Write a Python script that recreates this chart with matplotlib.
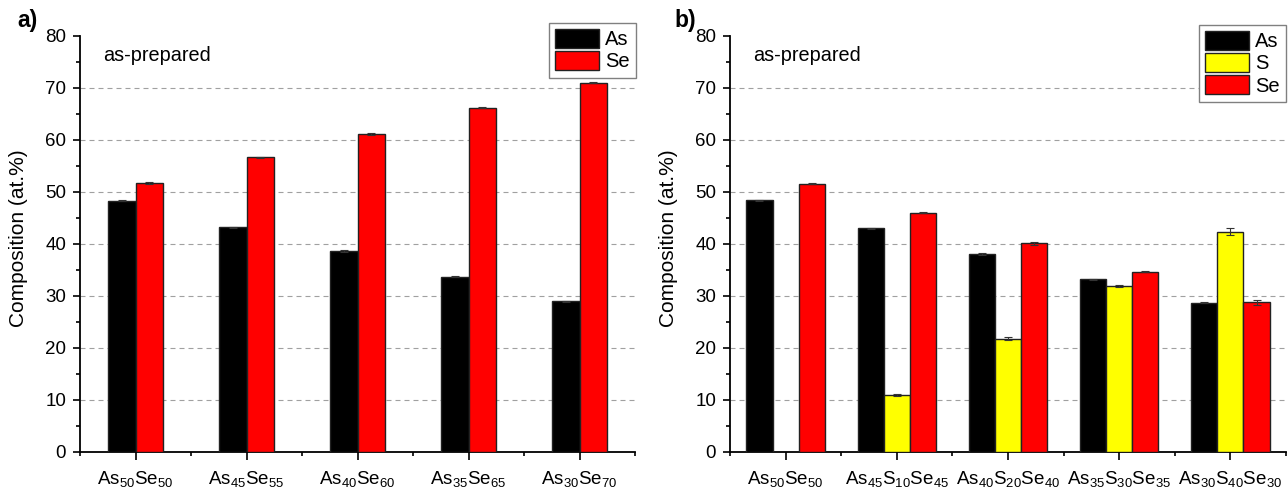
import numpy as np
import matplotlib
matplotlib.use("Agg")
import matplotlib.pyplot as plt
from matplotlib.ticker import MultipleLocator, FixedLocator
from matplotlib.patches import Patch

plt.rcParams['font.family'] = ['Liberation Sans', 'DejaVu Sans']
plt.rcParams['mathtext.default'] = 'regular'

# panel a) As-Se
labels_a = [r"As$_{50}$Se$_{50}$", r"As$_{45}$Se$_{55}$", r"As$_{40}$Se$_{60}$",
            r"As$_{35}$Se$_{65}$", r"As$_{30}$Se$_{70}$"]
as_a = [48.3, 43.2, 38.7, 33.7, 29.0]
as_a_err = [0.1, 0.1, 0.15, 0.1, 0.1]
se_a = [51.7, 56.7, 61.2, 66.2, 71.0]
se_a_err = [0.2, 0.1, 0.15, 0.1, 0.1]

# panel b) As-S-Se
labels_b = [r"As$_{50}$Se$_{50}$", r"As$_{45}$S$_{10}$Se$_{45}$", r"As$_{40}$S$_{20}$Se$_{40}$",
            r"As$_{35}$S$_{30}$Se$_{35}$", r"As$_{30}$S$_{40}$Se$_{30}$"]
as_b = [48.4, 43.0, 38.1, 33.2, 28.7]
as_b_err = [0.1, 0.15, 0.15, 0.1, 0.1]
s_b = [np.nan, 10.9, 21.8, 32.0, 42.4]
s_b_err = [np.nan, 0.2, 0.35, 0.2, 0.7]
se_b = [51.6, 46.0, 40.1, 34.7, 28.8]
se_b_err = [0.15, 0.1, 0.2, 0.15, 0.45]

BLACK, RED, YELLOW = "#000000", "#ff0000", "#ffff00"
fs = 13

fig = plt.figure(figsize=(12.88, 4.92), dpi=100)
ax1 = fig.add_axes([80/1288, 1-452/492, 555/1288, 416/492])
ax2 = fig.add_axes([730/1288, 1-452/492, 556/1288, 416/492])


def bars(ax, x, vals, errs, color, width):
    ax.bar(x, vals, width=width, color=color, edgecolor="#222222", linewidth=1.0, zorder=3)
    ax.errorbar(x, vals, yerr=errs, fmt="none", ecolor="#333333", elinewidth=0.8,
                capsize=3, capthick=0.8, zorder=4)


def style(ax, labels):
    ax.set_xlim(0.5, 5.5)
    ax.set_ylim(0, 80)
    ax.set_xticks(np.arange(1, 6))
    ax.set_xticklabels(labels, fontsize=fs + 0.5)
    ax.xaxis.set_minor_locator(FixedLocator(np.arange(0.5, 6.0, 1.0)))
    ax.yaxis.set_major_locator(MultipleLocator(10))
    ax.yaxis.set_minor_locator(MultipleLocator(5))
    ax.tick_params(axis="y", which="major", direction="out", length=5, width=1.2, pad=5, labelsize=fs + 0.5)
    ax.tick_params(axis="y", which="minor", direction="out", length=3, width=1.2)
    ax.tick_params(axis="x", which="major", direction="out", length=6, width=1.2, pad=6)
    ax.tick_params(axis="x", which="minor", direction="out", length=3, width=1.2)
    for s in ["top", "right"]:
        ax.spines[s].set_visible(False)
    for s in ["left", "bottom"]:
        ax.spines[s].set_linewidth(1.3)
    for yv in range(10, 80, 10):
        ax.axhline(yv, color="#a0a0a0", linewidth=0.8, linestyle=(0, (4.5, 3.6)), zorder=1)
    ax.set_ylabel("Composition (at.%)", fontsize=15)
    ax.yaxis.set_label_coords(-0.094, 0.515)
    ax.text(0.042, 0.954, "as-prepared", transform=ax.transAxes, fontsize=14.3, va="center")


x = np.arange(1, 6)
w = 0.25
bars(ax1, x - w/2, as_a, as_a_err, BLACK, w)
bars(ax1, x + w/2, se_a, se_a_err, RED, w)
style(ax1, labels_a)

w2 = 0.235
bars(ax2, x - w2, as_b, as_b_err, BLACK, w2)
bars(ax2, x, s_b, s_b_err, YELLOW, w2)
bars(ax2, x + w2, se_b, se_b_err, RED, w2)
style(ax2, labels_b)

fig.text(17/1288, 1-21/492, "a)", fontsize=16.5, fontweight="bold", va="center")
fig.text(674/1288, 1-20/492, "b)", fontsize=16.5, fontweight="bold", va="center")


def legend(ax, names, cols, anchor):
    handles = [Patch(facecolor=c, edgecolor="#222222", linewidth=1.0) for c in cols]
    leg = ax.legend(handles, names, loc="upper right", bbox_to_anchor=anchor,
                    bbox_transform=fig.transFigure, fontsize=14.5, frameon=True,
                    fancybox=False, framealpha=1, edgecolor="#808080",
                    handlelength=2.2, handleheight=1.05, labelspacing=0.1,
                    handletextpad=0.3, borderpad=0.3, borderaxespad=0)
    leg.get_frame().set_linewidth(1.0)
    leg.set_zorder(10)


legend(ax1, ["As", "Se"], [BLACK, RED], (636/1288, 1-23/492))
legend(ax2, ["As", "S", "Se"], [BLACK, YELLOW, RED], (1286/1288, 1-25/492))

fig.savefig("out.png", dpi=100, facecolor="white")
